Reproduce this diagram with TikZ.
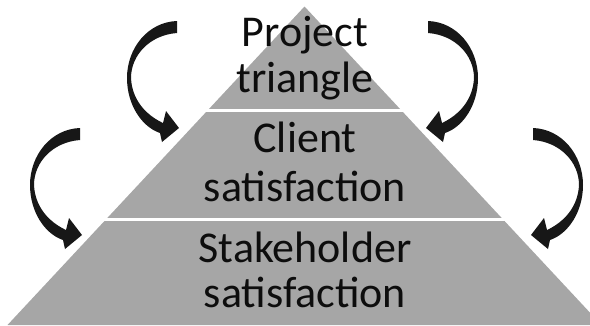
\documentclass[tikz,border=0pt]{standalone}
\usepackage{fontspec}
\setmainfont{Carlito}
\definecolor{pyrgray}{HTML}{A6A6A6}
\definecolor{arrowcol}{HTML}{171717}
\definecolor{txtcol}{HTML}{0D0D0D}
\begin{document}
\begin{tikzpicture}[x=1pt,y=-1pt,
  lbl/.style={anchor=base,inner sep=0pt,text=txtcol,font=\fontsize{44}{48}\selectfont},
  sep/.style={draw=white,line width=3pt},
  curvearrow/.pic={
    \fill[arrowcol] (177,21) .. controls (148,22) and (127,48) .. (127,78)
      .. controls (127,105) and (142,127) .. (160,133)
      -- (162,142) -- (179,128) -- (166,111) -- (163,123)
      .. controls (146,115) and (132,100) .. (131,78)
      .. controls (131,55) and (150,35) .. (177,33) -- cycle;
  }]
\useasboundingbox (0,0) rectangle (590,325);
\begin{scope}
\clip (0,0) rectangle (590,325);
\fill[pyrgray] (304.5,6.5) -- (601.5,325) -- (7.5,325) -- cycle;
\draw[sep] (0,110.5) -- (590,110.5);
\draw[sep] (0,219.5) -- (590,219.5);
\end{scope}
\node[lbl] (p1) at (305,46) {Project};
\node[lbl] (p2) at (305,92) {triangle};
\node[lbl] (c1) at (305,152) {Client};
\node[lbl] (c2) at (305,201) {satisfaction};
\node[lbl] (s1) at (305,262) {Stakeholder};
\node[lbl] (s2) at (305,307) {satisfaction};
\pic (atl) at (0,0) {curvearrow};
\pic[xscale=-1] (atr) at (605,0) {curvearrow};
\pic (aml) at (-97,107) {curvearrow};
\pic[xscale=-1] (amr) at (710,107) {curvearrow};
\end{tikzpicture}
\end{document}
